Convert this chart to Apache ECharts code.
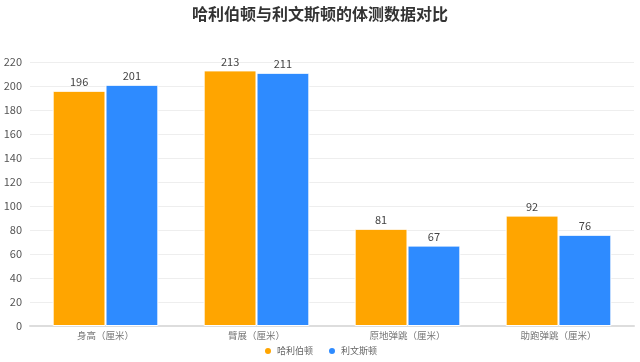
<!DOCTYPE html>
<html><head><meta charset="utf-8">
<script src="https://cdn.jsdelivr.net/npm/echarts@6/dist/echarts.min.js"></script>
<style>html,body{margin:0;padding:0;background:#fff}#c{width:640px;height:362px}</style>
</head><body><div id="c"></div>
<script>
const categories = ['身高（厘米）', '臂展（厘米）', '原地弹跳（厘米）', '助跑弹跳（厘米）'];
const seriesNames = ['哈利伯顿', '利文斯顿'];
const haliburton = [196, 213, 81, 92];
const livingston = [201, 211, 67, 76];
const yTicks = { min: 0, max: 220, interval: 20 };
const colors = ['#FFA500', '#2E8BFF'];

const chart = echarts.init(document.getElementById('c'));
const lbl = { show: true, position: 'top', color: '#444', fontSize: 11, distance: 3 };
chart.setOption({
  animation: false,
  textStyle: { fontFamily: '"Noto Sans CJK SC", "Noto Sans", sans-serif' },
  title: { text: '哈利伯顿与利文斯顿的体测数据对比', left: 'center', top: 1,
    textStyle: { fontSize: 16, fontWeight: 'bold', color: '#333' } },
  legend: { bottom: 1, itemWidth: 8, itemHeight: 8, icon: 'circle', itemGap: 14,
    textStyle: { fontSize: 9, color: '#666' } },
  grid: { left: 30, right: 6, top: 62, bottom: 36 },
  xAxis: { type: 'category', data: categories,
    axisLine: { lineStyle: { color: '#ddd', width: 2 } }, axisTick: { show: false },
    axisLabel: { color: '#777', fontSize: 9.5, margin: 5 } },
  yAxis: { type: 'value', min: yTicks.min, max: yTicks.max, interval: yTicks.interval,
    axisLabel: { color: '#555', fontSize: 11 },
    splitLine: { lineStyle: { color: '#eee' } } },
  series: [
    { name: seriesNames[0], type: 'bar', data: haliburton, itemStyle: { color: colors[0], borderColor: '#fff', borderWidth: 1 }, barGap: '0%', barCategoryGap: '30%', label: lbl },
    { name: seriesNames[1], type: 'bar', data: livingston, itemStyle: { color: colors[1], borderColor: '#fff', borderWidth: 1 }, label: lbl }
  ]
});
</script></body></html>
